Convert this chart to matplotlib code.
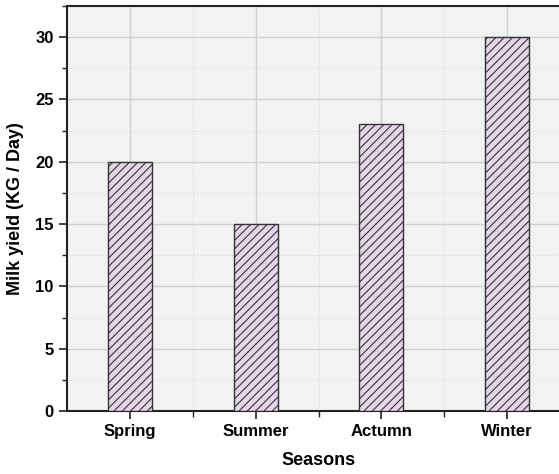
import matplotlib
matplotlib.use("Agg")
import matplotlib.pyplot as plt
from matplotlib.ticker import MultipleLocator, FixedLocator

seasons = ["Spring", "Summer", "Actumn", "Winter"]
milk_yield = [20, 15, 23, 30]

plt.rcParams['font.family'] = ['Liberation Sans', 'DejaVu Sans']
plt.rcParams['hatch.color'] = '#5a5060'
plt.rcParams['hatch.linewidth'] = 0.8

fig = plt.figure(figsize=(5.59, 4.74), dpi=100)
ax = fig.add_axes([67 / 559, 63 / 474, 503 / 559, 405 / 474])
ax.set_facecolor('#f2f2f2')

x = list(range(len(seasons)))
ax.bar(x, milk_yield, width=0.35, color='#e5d5ea', edgecolor='#333333',
       linewidth=1.0, hatch='////', zorder=3)

ax.set_xlim(-0.5, 3.5)
ax.set_ylim(0, 32.5)
ax.set_xticks(x)
ax.set_xticklabels(seasons, fontsize=12, fontweight='bold')
ax.xaxis.set_minor_locator(FixedLocator([0.5, 1.5, 2.5]))
ax.yaxis.set_major_locator(MultipleLocator(5))
ax.yaxis.set_minor_locator(MultipleLocator(2.5))
for lbl in ax.get_yticklabels():
    lbl.set_fontsize(12)
    lbl.set_fontweight('bold')

ax.grid(which='major', color='#d0d0d0', linewidth=1.0, zorder=0)
ax.grid(which='minor', color='#dadada', linewidth=0.8, linestyle=':', zorder=0)
ax.set_axisbelow(True)

ax.tick_params(which='major', direction='out', length=6, width=1.2,
               colors='#222222', labelcolor='black')
ax.tick_params(which='minor', direction='out', length=3.5, width=1.0, colors='#222222')
ax.tick_params(axis='x', which='minor', length=4)
for s in ['left', 'bottom', 'top']:
    ax.spines[s].set_linewidth(1.5)
    ax.spines[s].set_color('#222222')
ax.spines['right'].set_visible(False)

ax.set_xlabel("Seasons", fontsize=13, fontweight='bold', labelpad=9)
ax.set_ylabel("Milk yield (KG / Day)", fontsize=13, fontweight='bold', labelpad=8)

fig.savefig("out.png", dpi=100)
